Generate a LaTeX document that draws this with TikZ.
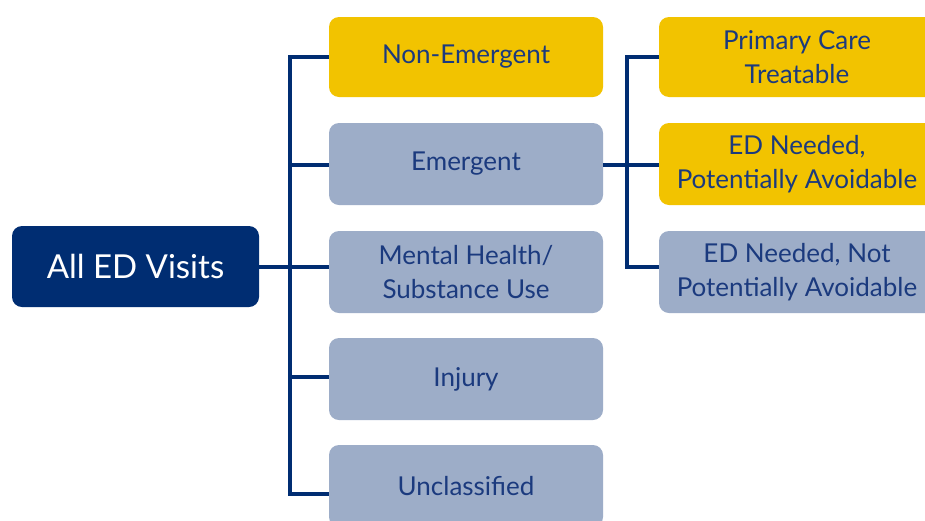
\documentclass[tikz,border=0pt]{standalone}
\usepackage{fontspec}
\setmainfont{Lato}
\definecolor{navy}{HTML}{002D72}
\definecolor{gold}{HTML}{F2C300}
\definecolor{slate}{HTML}{9DADC8}
\definecolor{ink}{HTML}{1B3A7E}
\tikzset{
  box/.style={rounded corners=10pt, inner sep=0pt, align=center,
    minimum width=274pt, minimum height=82pt, text=ink,
    font=\fontsize{26}{34}\selectfont},
  yellowbox/.style={box, fill=gold},
  greybox/.style={box, fill=slate},
  rootbox/.style={box, fill=navy, text=white, minimum width=247pt,
    minimum height=81pt, font=\fontsize{33}{38}\selectfont},
  link/.style={draw=navy, line width=4pt}
}
\begin{document}
\begin{tikzpicture}[x=1pt, y=-1pt]
  \useasboundingbox (0,0) rectangle (925,520);
  \clip (0,0) rectangle (925,520);
  \fill[white] (0,0) rectangle (925,520);

  % root
  \node[rootbox] (root) at (135.5,266.5) {All ED Visits};

  % first level
  \node[yellowbox, minimum height=80pt] (ne) at (466,57) {Non-Emergent};
  \node[greybox] (em) at (466,164) {Emergent};
  \node[greybox] (mh) at (466,272) {Mental Health/\\Substance Use};
  \node[greybox] (inj) at (466,379) {Injury};
  \node[greybox] (unc) at (466,486) {Unclassified};

  % second level (under Emergent)
  \node[yellowbox, minimum width=276pt, minimum height=80pt] (pc) at (797,57) {Primary Care\\Treatable};
  \node[yellowbox, minimum width=276pt] (pa) at (797,164) {ED Needed,\\Potentially Avoidable};
  \node[greybox, minimum width=276pt] (npa) at (797,272) {ED Needed, Not\\Potentially Avoidable};

  % trunk from the root
  \coordinate (s1) at (290,57);
  \coordinate (s5) at (290,494);
  \draw[link] (root.east) -- (mh.west |- root.east);
  \draw[link, line cap=rect] (s1) -- (s5);
  \draw[link] (s1) -- (ne.west |- s1);
  \draw[link] (290,165) -- (em.west |- 0,165);
  \draw[link] (290,377) -- (inj.west |- 0,377);
  \draw[link] (s5) -- (unc.west |- s5);

  % branch from Emergent
  \coordinate (t1) at (627,57);
  \coordinate (t3) at (627,267);
  \draw[link] (em.east |- 0,165) -- (pa.west |- 0,165);
  \draw[link, line cap=rect] (t1) -- (t3);
  \draw[link] (t1) -- (pc.west |- t1);
  \draw[link] (t3) -- (npa.west |- t3);
\end{tikzpicture}
\end{document}
